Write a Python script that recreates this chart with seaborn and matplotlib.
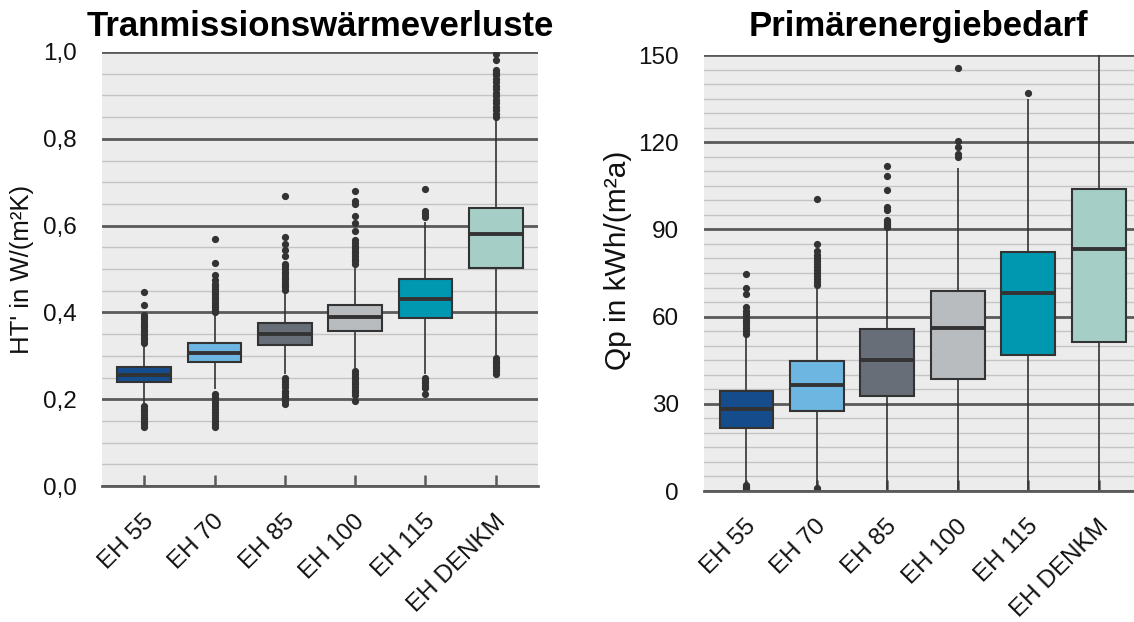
import numpy as np
import pandas as pd
import seaborn as sns
import matplotlib
matplotlib.use("Agg")
import matplotlib.pyplot as plt
from matplotlib.ticker import MultipleLocator, FuncFormatter
from matplotlib.transforms import ScaledTranslation

sns.set_theme(style="white")
plt.rcParams['font.family'] = ['Liberation Sans', 'DejaVu Sans']

# ---------------- data ----------------
categories = ["EH 55", "EH 70", "EH 85", "EH 100", "EH 115", "EH DENKM"]
box_colors = ["#154d8c", "#6db6e1", "#676e78", "#b8bcbf", "#0097b1", "#a5cfc6"]

# Transmissionswärmeverluste HT' in W/(m²K)
ht_q1 = [0.239, 0.285, 0.326, 0.358, 0.388, 0.503]
ht_median = [0.256, 0.306, 0.351, 0.390, 0.431, 0.580]
ht_q3 = [0.274, 0.329, 0.375, 0.418, 0.477, 0.640]
ht_whisker_low = [0.190, 0.223, 0.257, 0.271, 0.257, 0.302]
ht_whisker_high = [0.322, 0.394, 0.444, 0.503, 0.609, 0.843]
ht_outliers_low = [
    [0.137, 0.142, 0.148, 0.154, 0.160, 0.166, 0.172, 0.178, 0.184],
    [0.137, 0.143, 0.150, 0.157, 0.164, 0.171, 0.178, 0.185, 0.192, 0.199, 0.206, 0.213],
    [0.190, 0.196, 0.202, 0.208, 0.214, 0.220, 0.228, 0.235, 0.242, 0.249],
    [0.196, 0.210, 0.216, 0.222, 0.228, 0.234, 0.240, 0.246, 0.252, 0.258, 0.264],
    [0.212, 0.225, 0.231, 0.237, 0.243, 0.250],
    [0.259, 0.265, 0.271, 0.277, 0.283, 0.289, 0.295],
]
ht_outliers_high = [
    [0.330, 0.336, 0.342, 0.348, 0.354, 0.360, 0.366, 0.372, 0.378, 0.384, 0.390, 0.395, 0.417, 0.446],
    [0.400, 0.406, 0.412, 0.418, 0.424, 0.430, 0.436, 0.442, 0.448, 0.454, 0.460, 0.466, 0.474, 0.486, 0.513, 0.570],
    [0.452, 0.458, 0.464, 0.470, 0.476, 0.482, 0.488, 0.494, 0.500, 0.506, 0.511, 0.530, 0.543, 0.557, 0.573, 0.668],
    [0.512, 0.518, 0.524, 0.530, 0.536, 0.542, 0.548, 0.554, 0.560, 0.566, 0.587, 0.606, 0.622, 0.649, 0.657, 0.679],
    [0.620, 0.627, 0.634, 0.684],
    [0.850, 0.858, 0.866, 0.874, 0.882, 0.890, 0.898, 0.906, 0.914, 0.922, 0.930, 0.938, 0.946, 0.952, 0.958, 0.981, 0.996],
]

# Primärenergiebedarf Qp in kWh/(m²a)
qp_q1 = [21.7, 27.4, 32.7, 38.7, 46.9, 51.2]
qp_median = [28.3, 36.5, 45.2, 56.2, 68.2, 83.3]
qp_q3 = [34.4, 44.6, 55.8, 68.9, 82.3, 104.0]
qp_whisker_low = [3.0, 2.0, 0.3, 0.3, 0.3, 0.3]
qp_whisker_high = [53.0, 70.0, 89.5, 111.0, 134.9, 170.0]
qp_outliers_low = [
    [0.4, 0.9, 1.4, 2.0],
    [0.4, 1.0],
    [], [], [], [],
]
qp_outliers_high = [
    [54.0, 55.0, 56.0, 57.0, 58.0, 59.0, 60.0, 61.0, 62.0, 63.4, 67.9, 69.7, 74.5],
    [71.0, 72.0, 73.0, 74.0, 75.0, 76.0, 77.0, 78.0, 79.0, 80.0, 81.1, 82.5, 84.9, 100.5],
    [90.7, 91.3, 92.0, 92.6, 93.2, 96.6, 97.8, 103.6, 108.3, 111.7],
    [115.0, 116.1, 118.4, 120.5, 145.4],
    [137.0],
    [],
]


def build_sample(q1, med, q3, lo, hi, out_lo, out_hi):
    """Sorted sample (length 4k+1) whose quartiles, whisker ends and
    outliers equal the values read from the chart."""
    low = sorted(out_lo) + [lo]
    high = [hi] + sorted(out_hi)
    k = max(len(low), len(high)) + 1
    return (low + [q1] * (k + 1 - len(low)) + [med] * k + [q3] * k
            + [q3] * (k - len(high)) + high)


def make_frame(q1s, meds, q3s, los, his, olos, ohis):
    rows = []
    for i, cat in enumerate(categories):
        for v in build_sample(q1s[i], meds[i], q3s[i], los[i], his[i], olos[i], ohis[i]):
            rows.append((cat, v))
    return pd.DataFrame(rows, columns=["Kategorie", "Wert"])


df_ht = make_frame(ht_q1, ht_median, ht_q3, ht_whisker_low, ht_whisker_high,
                   ht_outliers_low, ht_outliers_high)
df_qp = make_frame(qp_q1, qp_median, qp_q3, qp_whisker_low, qp_whisker_high,
                   qp_outliers_low, qp_outliers_high)

# ---------------- figure ----------------
W, H = 1134, 622
fig = plt.figure(figsize=(W / 100, H / 100), dpi=100)
ax1 = fig.add_axes([102 / W, 1 - 486 / H, 436 / W, 434 / H])
ax2 = fig.add_axes([704 / W, 1 - 491 / H, 430 / W, 436 / H])

palette = dict(zip(categories, box_colors))
line_c = "#333333"
major_c = "#5a5a5a"
minor_c = "#c4c4c4"


def draw(ax, df, ylim, major, minor, fmt, xmax):
    ax.set_facecolor("#ececec")
    sns.boxplot(data=df, x="Kategorie", y="Wert", hue="Kategorie", order=categories,
                hue_order=categories, palette=palette, saturation=1, legend=False,
                width=0.76, linecolor=line_c, linewidth=1.5, whis=1.5,
                showcaps=False,
                medianprops=dict(linewidth=2.8, color=line_c),
                whiskerprops=dict(linewidth=1.2, color=line_c),
                flierprops=dict(marker="o", markersize=5.2, markerfacecolor=line_c,
                                markeredgecolor=line_c, markeredgewidth=0),
                ax=ax)
    ax.set_xlim(-0.6, xmax)
    ax.set_ylim(*ylim)
    ax.yaxis.set_major_locator(MultipleLocator(major))
    ax.yaxis.set_minor_locator(MultipleLocator(minor))
    ax.yaxis.set_major_formatter(FuncFormatter(fmt))
    ax.set_axisbelow(True)
    ax.grid(which="minor", axis="y", color=minor_c, linewidth=1.0)
    ax.grid(which="major", axis="y", color=major_c, linewidth=2.0)
    ax.grid(which="both", axis="x", visible=False)
    for s in ["left", "right", "top"]:
        ax.spines[s].set_visible(False)
    ax.spines["bottom"].set_color(major_c)
    ax.spines["bottom"].set_linewidth(2.0)
    ax.tick_params(axis="y", which="both", length=0, pad=18, labelsize=17.5,
                   labelcolor="#111111")
    ax.tick_params(axis="x", which="major", bottom=True, direction="in", length=8,
                   width=1.8, color=major_c, pad=23, labelsize=17.5, labelcolor="#111111")
    ax.tick_params(axis="x", which="minor", length=0)
    ax.set_xlabel("")
    off = ScaledTranslation(6 / 100, 0, fig.dpi_scale_trans)
    for lab in ax.get_xticklabels():
        lab.set_rotation(45)
        lab.set_ha("right")
        lab.set_va("center")
        lab.set_rotation_mode("anchor")
        lab.set_transform(lab.get_transform() + off)


draw(ax1, df_ht, (0, 1.0), 0.2, 0.05, lambda v, p: f"{v:.1f}".replace(".", ","), 5.6)
draw(ax2, df_qp, (0, 150), 30, 5, lambda v, p: f"{v:.0f}", 5.5)

ax1.set_ylabel("HT' in W/(m²K)", fontsize=18.5, color="#111111")
ax1.yaxis.label.set_rotation_mode("default")
ax1.yaxis.label.set_va("center")
ax1.yaxis.set_label_coords((22 - 102) / 436, 0.5)

ax2.set_ylabel("Qp in kWh/(m²a)", fontsize=21.5, color="#111111")
ax2.yaxis.label.set_rotation_mode("default")
ax2.yaxis.label.set_va("center")
ax2.yaxis.set_label_coords((618 - 704) / 430, 0.53)

fig.text(320 / W, 1 - 36 / H, "Tranmissionswärmeverluste", ha="center", va="baseline",
         fontsize=25, fontweight="bold", color="black")
fig.text(918 / W, 1 - 36 / H, "Primärenergiebedarf", ha="center", va="baseline",
         fontsize=25, fontweight="bold", color="black")

fig.savefig("out.png", dpi=100, facecolor="white")
